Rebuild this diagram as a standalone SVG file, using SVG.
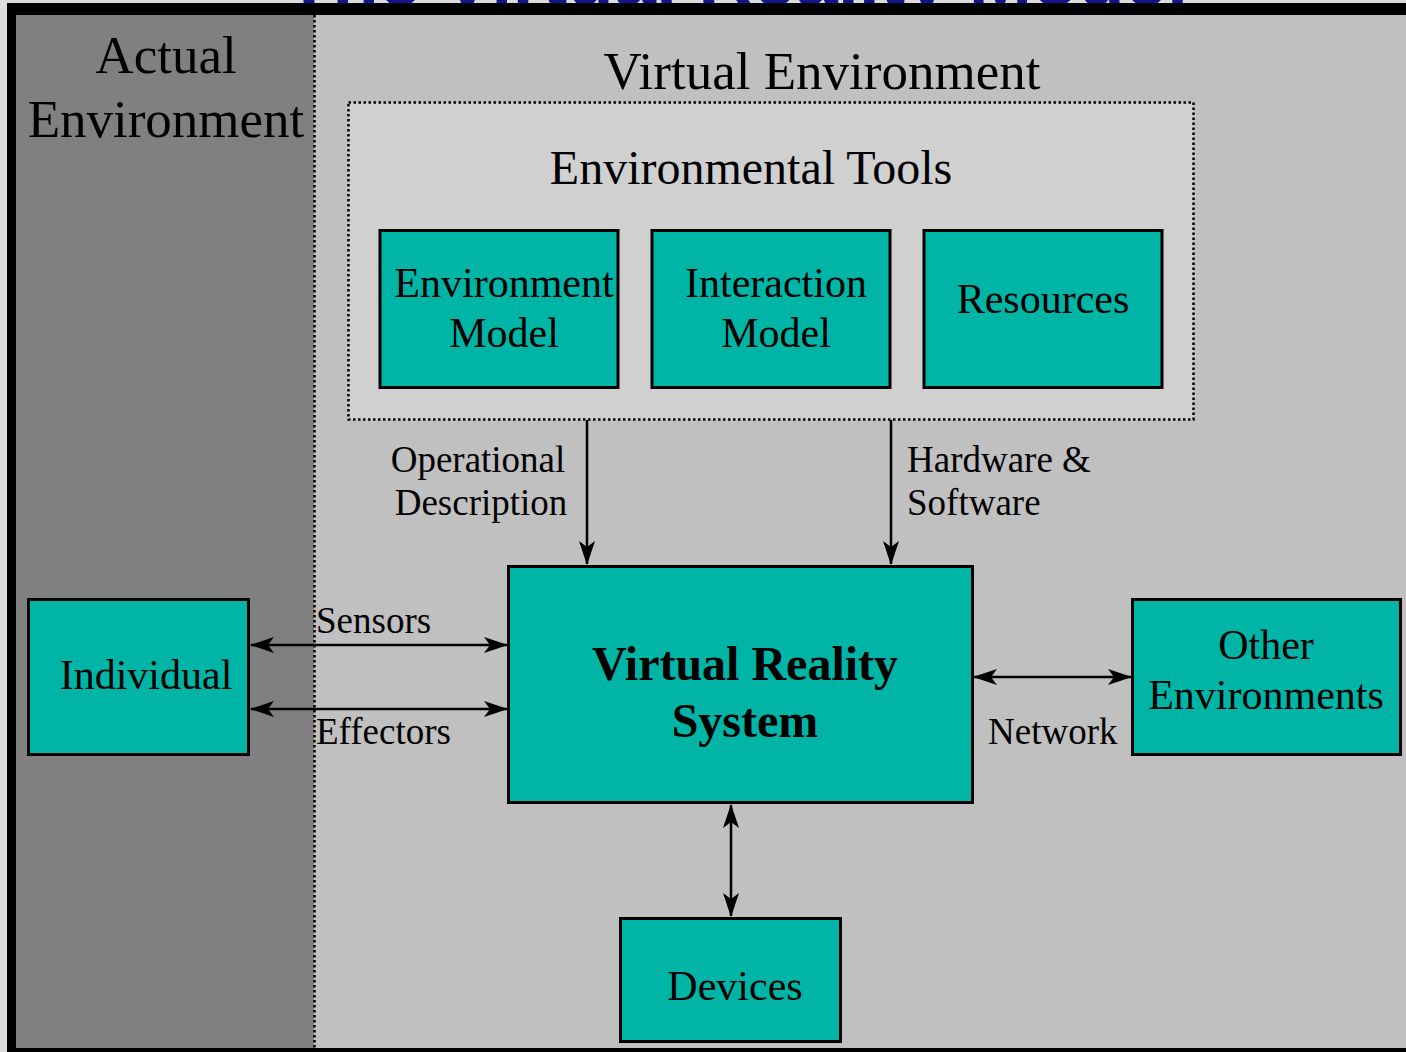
<svg xmlns="http://www.w3.org/2000/svg" width="1406" height="1052" viewBox="0 0 1406 1052">
<style>
.t{font-family:"Liberation Serif","Times New Roman",serif;fill:#000;text-anchor:middle}
.box{fill:#00b5a5;stroke:#000;stroke-width:3}
.lab{font-size:37px}
.bt{font-size:42px}
.con{stroke:#000;stroke-width:2.5;fill:none}
</style>
<defs>
<marker id="ah" viewBox="0 0 24 16" refX="23" refY="8" markerWidth="24" markerHeight="16" markerUnits="userSpaceOnUse" orient="auto-start-reverse">
<path d="M0,0 L24,8 L0,16 L6,8 Z" fill="#000"/>
</marker>
</defs>
<rect x="0" y="0" width="1406" height="1052" fill="#dcdcdc"/>
<text x="737" y="5" style="font-family:'Liberation Sans',Arial,sans-serif;font-weight:bold;font-size:76px;fill:#14148c;text-anchor:middle">The Virtual Reality Model</text>
<rect x="7" y="3" width="1399" height="1049" fill="#000"/>
<rect x="16" y="15" width="1390" height="1033" fill="#c0c0c0"/>
<rect x="16" y="15" width="298" height="1033" fill="#808080"/>
<line x1="314.5" y1="15" x2="314.5" y2="1048" stroke="#000" stroke-width="2.5" stroke-dasharray="2.5,2.5"/>
<g id="actual-env">
<text class="t" x="166" y="73" font-size="53">Actual</text>
<text class="t" x="166" y="137" font-size="53">Environment</text>
</g>
<g id="virtual-env">
<text class="t" x="822" y="89" font-size="53">Virtual Environment</text>
</g>
<g id="env-tools">
<rect x="348.5" y="102.5" width="845" height="317" fill="#d0d0d0" stroke="#000" stroke-width="2.5" stroke-dasharray="2.5,2.5"/>
<text class="t" x="751" y="184" font-size="48">Environmental Tools</text>
</g>
<g id="environment-model">
<rect class="box" x="380" y="230.5" width="238" height="157"/>
<text class="t bt" x="504" y="297">Environment</text>
<text class="t bt" x="504" y="347">Model</text>
</g>
<g id="interaction-model">
<rect class="box" x="652" y="230.5" width="238" height="157"/>
<text class="t bt" x="776" y="297">Interaction</text>
<text class="t bt" x="776" y="347">Model</text>
</g>
<g id="resources">
<rect class="box" x="924" y="230.5" width="238" height="157"/>
<text class="t bt" x="1043" y="313">Resources</text>
</g>
<g id="vr-system">
<rect class="box" x="508.5" y="566.5" width="464" height="236"/>
<text class="t" x="745" y="680" font-size="48" font-weight="bold">Virtual Reality</text>
<text class="t" x="745" y="737" font-size="48" font-weight="bold">System</text>
</g>
<g id="individual">
<rect class="box" x="28.5" y="599.5" width="220" height="155"/>
<text class="t bt" x="146" y="689">Individual</text>
</g>
<g id="other-environments">
<rect class="box" x="1132.5" y="599.5" width="268" height="155"/>
<text class="t bt" x="1266" y="659">Other</text>
<text class="t bt" x="1266" y="709">Environments</text>
</g>
<g id="devices">
<rect class="box" x="620.5" y="918.5" width="220" height="123"/>
<text class="t bt" x="735" y="1000">Devices</text>
</g>
<g id="connectors">
<line class="con" x1="587" y1="420" x2="587" y2="564" marker-end="url(#ah)"/>
<line class="con" x1="891" y1="420" x2="891" y2="564" marker-end="url(#ah)"/>
<line class="con" x1="251" y1="645" x2="507" y2="645" marker-start="url(#ah)" marker-end="url(#ah)"/>
<line class="con" x1="251" y1="709" x2="507" y2="709" marker-start="url(#ah)" marker-end="url(#ah)"/>
<line class="con" x1="974" y1="677" x2="1131" y2="677" marker-start="url(#ah)" marker-end="url(#ah)"/>
<line class="con" x1="731" y1="805" x2="731" y2="916" marker-start="url(#ah)" marker-end="url(#ah)"/>
<text class="t lab" x="478" y="472">Operational</text>
<text class="t lab" x="481" y="515">Description</text>
<text class="t lab" x="907" y="472" style="text-anchor:start">Hardware &amp;</text>
<text class="t lab" x="907" y="515" style="text-anchor:start">Software</text>
<text class="t lab" x="316" y="633" style="text-anchor:start">Sensors</text>
<text class="t lab" x="316" y="744" style="text-anchor:start">Effectors</text>
<text class="t lab" x="988" y="744" style="text-anchor:start">Network</text>
</g>
</svg>
